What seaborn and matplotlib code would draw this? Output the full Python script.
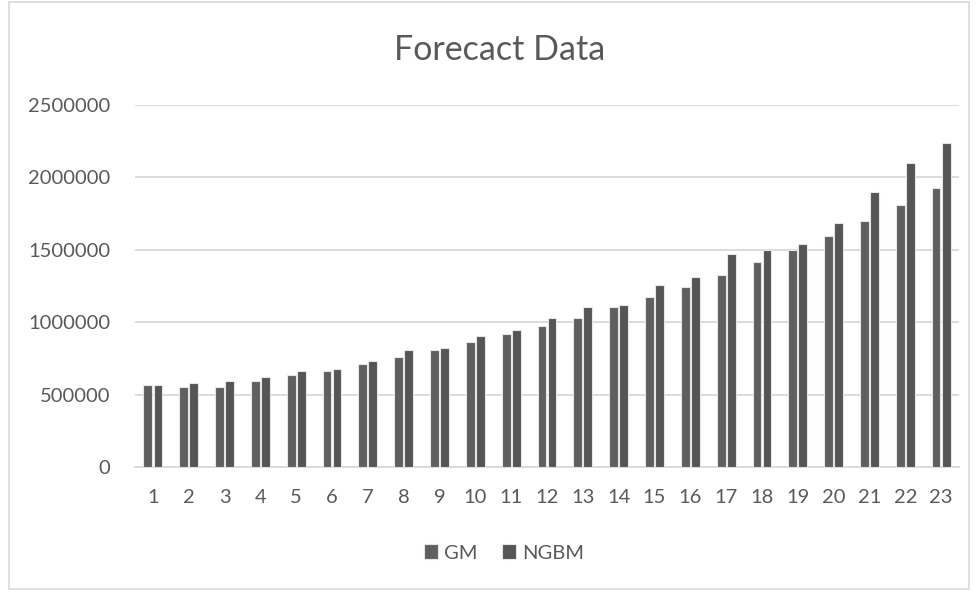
import matplotlib
matplotlib.use("Agg")
import matplotlib.pyplot as plt
from matplotlib.patches import Rectangle
import seaborn as sns
import pandas as pd

# Forecast values per period for the two grey models
periods = list(range(1, 24))
gm = [566000, 553000, 553000, 594000, 637000, 662000, 709000, 763000, 806000,
      863000, 919000, 974000, 1030000, 1102000, 1172000, 1244000, 1328000,
      1414000, 1499000, 1597000, 1697000, 1808000, 1924000]
ngbm = [567000, 580000, 594000, 621000, 662000, 677000, 734000, 806000, 819000,
        902000, 946000, 1030000, 1102000, 1116000, 1259000, 1315000, 1469000,
        1499000, 1542000, 1683000, 1898000, 2097000, 2235000]
series_names = ["GM", "NGBM"]
y_ticks = [0, 500000, 1000000, 1500000, 2000000, 2500000]

df = pd.DataFrame({
    "period": [str(p) for p in periods] * 2,
    "value": gm + ngbm,
    "model": [series_names[0]] * len(periods) + [series_names[1]] * len(periods),
})

sns.set_theme(style="white")
plt.rcParams["font.family"] = ["Lato", "DejaVu Sans"]

W, H = 977, 592
fig = plt.figure(figsize=(W / 100, H / 100), dpi=100)
ax = fig.add_axes([135 / W, 1 - 467 / H, (959 - 135) / W, (467 - 105) / H])

text_col = "#595959"
grid_col = "#d9d9d9"

sns.barplot(
    data=df, x="period", y="value", hue="model",
    palette=["#5f5f5f", "#555555"], width=0.56, gap=0.12,
    edgecolor="#e6e6e6", linewidth=0.8, ax=ax, legend=True,
    order=[str(p) for p in periods], hue_order=series_names, zorder=3,
)

ax.set_ylim(0, 2500000)
ax.set_xlim(-0.5, len(periods) - 0.5)
ax.set_yticks(y_ticks)
ax.set_yticklabels([str(v) for v in y_ticks])
ax.set_xlabel("")
ax.set_ylabel("")
ax.yaxis.grid(True, color=grid_col, linewidth=1.3, zorder=0)
ax.xaxis.grid(False)
for side in ["top", "right", "left"]:
    ax.spines[side].set_visible(False)
ax.spines["bottom"].set_color(grid_col)
ax.spines["bottom"].set_linewidth(1.3)
ax.tick_params(axis="x", length=0, pad=16, labelsize=14.5, labelcolor=text_col)
ax.tick_params(axis="y", length=0, pad=18, labelsize=14.5, labelcolor=text_col)

handles, labels = ax.get_legend_handles_labels()
ax.legend_.remove()
fig.legend(
    handles, labels, loc="center", bbox_to_anchor=(504 / W, 1 - 553 / H),
    ncol=2, frameon=False, fontsize=14.5, labelcolor=text_col,
    handlelength=0.7, handleheight=0.7, handletextpad=0.3, columnspacing=1.2,
)

fig.text(500 / W, 1 - 50 / H, "Forecact Data", ha="center", va="center",
         fontsize=24.5, color=text_col)

fig.patches.append(Rectangle((9 / W, 3 / H), (969 - 9) / W, (590 - 3) / H,
                             transform=fig.transFigure, fill=False,
                             edgecolor=grid_col, linewidth=1.2))

fig.savefig("out.png", dpi=100, facecolor="white")
